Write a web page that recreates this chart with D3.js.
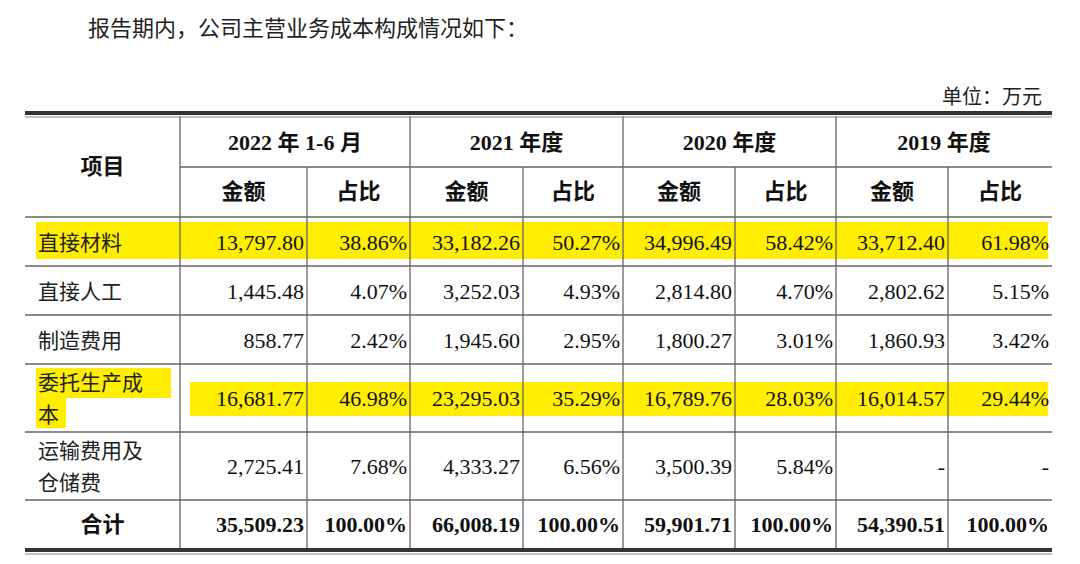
<!DOCTYPE html>
<html><head><meta charset="utf-8">
<script src="https://cdn.jsdelivr.net/npm/d3@7"></script>
<style>body{margin:0;background:#fff}</style>
</head><body><div id="chart"></div>
<script>
const width = 1080, height = 564;
const periods = ["2022 年 1-6 月", "2021 年度", "2020 年度", "2019 年度"];
const subHeads = ["金额", "占比"];
const items = [["直接材料"], ["直接人工"], ["制造费用"], ["委托生产成", "本"], ["运输费用及", "仓储费"], ["合计"]];
const amounts = [
  ["13,797.80", "33,182.26", "34,996.49", "33,712.40"],
  ["1,445.48", "3,252.03", "2,814.80", "2,802.62"],
  ["858.77", "1,945.60", "1,800.27", "1,860.93"],
  ["16,681.77", "23,295.03", "16,789.76", "16,014.57"],
  ["2,725.41", "4,333.27", "3,500.39", "-"],
  ["35,509.23", "66,008.19", "59,901.71", "54,390.51"]
];
const shares = [
  ["38.86%", "50.27%", "58.42%", "61.98%"],
  ["4.07%", "4.93%", "4.70%", "5.15%"],
  ["2.42%", "2.95%", "3.01%", "3.42%"],
  ["46.98%", "35.29%", "28.03%", "29.44%"],
  ["7.68%", "6.56%", "5.84%", "-"],
  ["100.00%", "100.00%", "100.00%", "100.00%"]
];
const highlighted = [0, 3];

const colX = [25, 180, 307, 410, 523, 623, 735, 836, 948, 1052];
const rowY = [116, 167, 217, 266, 315, 364, 432, 500, 548];
const serif = "'Liberation Serif','Noto Sans CJK SC',serif";
const cjk = "'Noto Sans CJK SC',sans-serif";

const svg = d3.select("#chart").append("svg").attr("width", width).attr("height", height);

svg.append("text").text("报告期内，公司主营业务成本构成情况如下：")
  .attr("x", 88).attr("y", 36).attr("font-family", cjk).attr("font-size", 22).attr("fill", "#222");
svg.append("text").text("单位：万元")
  .attr("x", 1042).attr("y", 104).attr("text-anchor", "end")
  .attr("font-family", cjk).attr("font-size", 20).attr("fill", "#222");

// highlights
const yellow = "#ffee00";
highlighted.forEach(r => {
  const y0 = rowY[r + 2], y1 = rowY[r + 3];
  const two = items[r].length > 1;
  if (two) {
    svg.append("rect").attr("x", 36).attr("y", y0 + 4).attr("width", 135).attr("height", 30).attr("fill", yellow);
    svg.append("rect").attr("x", 36).attr("y", y0 + 34).attr("width", 30).attr("height", 30).attr("fill", yellow);
    svg.append("rect").attr("x", 190).attr("y", y0 + 18).attr("width", 858).attr("height", 34).attr("fill", yellow);
  } else {
    svg.append("rect").attr("x", 36).attr("y", y0 + 5).attr("width", 1012).attr("height", y1 - y0 - 12).attr("fill", yellow);
  }
});

// grid lines
const g = svg.append("g").attr("stroke", "#666").attr("stroke-width", 1.3);
rowY.slice(2, 8).forEach(y => g.append("line").attr("x1", colX[0]).attr("x2", colX[9]).attr("y1", y).attr("y2", y));
g.append("line").attr("x1", colX[1]).attr("x2", colX[9]).attr("y1", rowY[1]).attr("y2", rowY[1]);
colX.slice(1, 9).forEach((x, i) => {
  const top = (i % 2 === 1) ? rowY[1] : rowY[0];
  g.append("line").attr("x1", x).attr("x2", x).attr("y1", top).attr("y2", rowY[8]);
});
[rowY[0] - 3, rowY[8] + 2].forEach(y => {
  svg.append("line").attr("x1", colX[0]).attr("x2", colX[9]).attr("y1", y).attr("y2", y)
    .attr("stroke", "#333").attr("stroke-width", 4);
  svg.append("line").attr("x1", colX[0]).attr("x2", colX[9]).attr("y1", y + 4).attr("y2", y + 4)
    .attr("stroke", "#888").attr("stroke-width", 1);
});

// headers
const head = (t, x, y) => svg.append("text").text(t).attr("x", x).attr("y", y)
  .attr("text-anchor", "middle").attr("font-family", serif).attr("font-weight", "bold")
  .attr("font-size", 22).attr("fill", "#111");
head("项目", (colX[0] + colX[1]) / 2, 174);
periods.forEach((p, i) => {
  head(p, (colX[1 + 2 * i] + colX[3 + 2 * i]) / 2, 150);
  subHeads.forEach((s, j) => head(s, (colX[1 + 2 * i + j] + colX[2 + 2 * i + j]) / 2, 199));
});

// body
items.forEach((it, r) => {
  const y0 = rowY[r + 2], y1 = rowY[r + 3], mid = (y0 + y1) / 2;
  const total = r === items.length - 1;
  if (total) {
    head(it[0], (colX[0] + colX[1]) / 2, mid + 8);
  } else {
    it.forEach((line, k) => svg.append("text").text(line)
      .attr("x", 38).attr("y", mid + 8 + (it.length > 1 ? (k - 0.5) * 32 : 0))
      .attr("font-family", cjk).attr("font-size", 21).attr("fill", "#222"));
  }
  periods.forEach((p, i) => {
    [amounts[r][i], shares[r][i]].forEach((v, j) => {
      svg.append("text").text(v)
        .attr("x", colX[2 + 2 * i + j] - 3).attr("y", mid + 8)
        .attr("text-anchor", "end").attr("font-family", serif)
        .attr("font-weight", total ? "bold" : "normal")
        .attr("font-size", 22).attr("fill", "#111");
    });
  });
});
</script></body></html>
